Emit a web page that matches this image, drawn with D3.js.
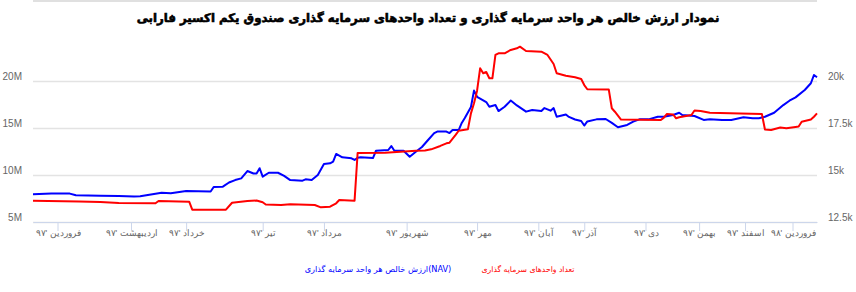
<!DOCTYPE html>
<html>
<head>
<meta charset="utf-8">
<script src="https://cdn.jsdelivr.net/npm/d3@7"></script>
<style>
    body { margin: 0; background: #fff; }
    svg { display: block; font-family: "DejaVu Sans", sans-serif; }
</style>
</head>
<body>
<svg width="856" height="292"></svg>
<script>
// trading day index of each month start on the x axis
var monthTicks = [8, 32, 50, 75, 95, 122, 145, 165, 180, 200, 217.5, 232.5, 248];
var monthLabels = ["فروردین '۹۷", "اردیبهشت '۹۷", "خرداد '۹۷", "تیر '۹۷", "مرداد '۹۷", "شهریور '۹۷",
    "مهر '۹۷", "آبان '۹۷", "آذر '۹۷", "دی '۹۷", "بهمن '۹۷", "اسفند '۹۷", "فروردین '۹۸"];

var leftTicks = [5, 10, 15, 20];          // M
var rightTicks = [12.5, 15, 17.5, 20];    // k

// تعداد واحدها (میلیون) - [روز, مقدار]
var unitsData = [[0, 7.27], [15, 7.18], [22, 7.13], [28, 7.02], [40, 6.99], [41, 7.23], [51, 7.16], [52, 6.31],
    [63, 6.31], [65, 7.05], [70, 7.23], [73, 7.29], [75, 7.10], [76, 6.86], [81, 6.81], [84, 6.88], [92, 6.81],
    [94, 6.56], [97, 6.63], [99, 6.99], [100, 7.34], [105, 7.27], [106, 12.34], [115, 12.37], [120, 12.48],
    [125, 12.59], [128, 12.61], [130, 12.73], [133, 13.09], [135, 13.37], [136, 13.44], [138, 14.26], [139, 14.71],
    [142, 14.86], [143, 16.56], [144, 17.63], [145, 18.97], [146, 21.35], [147, 20.82], [148, 20.96], [149, 20.29],
    [150, 20.29], [151, 22.77], [152, 22.95], [154, 22.95], [156, 23.30], [158, 23.48], [159, 23.65], [161, 23.19],
    [166, 23.12], [168, 22.77], [170, 21.81], [171, 20.82], [174, 20.56], [177, 20.39], [179, 20.21], [180, 19.57],
    [181, 19.12], [188, 19.10], [189, 17.10], [190, 16.73], [192, 15.90], [205, 15.85], [206, 16.10], [207, 16.49],
    [209, 16.44], [210, 16.03], [211, 16.14], [215, 16.38], [216, 16.86], [218, 16.81], [221, 16.63], [231, 16.54],
    [238, 16.49], [239, 14.84], [241, 14.79], [244, 15.05], [246, 14.97], [249, 15.11], [250, 15.16], [251, 15.67],
    [254, 15.90], [255, 16.20], [256, 16.56]];

// NAV (هزار ریال) - [روز, مقدار]
var navData = [[0, 13.97], [6, 14.02], [12, 14.01], [14, 13.92], [22, 13.90], [28, 13.88], [33, 13.85], [35, 13.87],
    [42, 14.06], [45, 14.03], [50, 14.15], [58, 14.12], [59, 14.36], [62, 14.38], [64, 14.60], [66, 14.73],
    [68, 14.82], [70, 15.21], [72, 15.08], [73, 15.08], [74, 15.36], [75, 14.91], [77, 15.12], [80, 15.12],
    [82, 14.95], [84, 14.73], [88, 14.70], [89, 14.77], [91, 14.73], [93, 15.00], [95, 15.59], [97, 15.62],
    [98, 15.71], [99, 16.12], [101, 15.94], [104, 15.89], [105, 15.80], [106, 15.92], [107, 15.94], [111, 15.90],
    [112, 16.29], [116, 16.33], [117, 16.54], [118, 16.29], [121, 16.29], [123, 15.97], [125, 16.24], [127, 16.49],
    [129, 16.86], [131, 17.23], [132, 17.31], [135, 17.31], [136, 17.23], [137, 17.39], [139, 17.39], [140, 17.77],
    [141, 18.03], [143, 18.62], [144, 19.49], [145, 19.16], [148, 18.88], [149, 18.63], [151, 18.72], [152, 18.40],
    [154, 18.63], [156, 18.96], [158, 18.70], [161, 18.37], [163, 18.46], [166, 18.40], [167, 18.56], [169, 18.42],
    [170, 18.56], [171, 18.10], [174, 18.22], [175, 18.09], [177, 17.95], [179, 17.87], [180, 17.63], [181, 17.85],
    [184, 17.96], [187, 17.98], [189, 17.77], [191, 17.54], [194, 17.66], [196, 17.84], [198, 17.96], [201, 17.96],
    [204, 18.10], [206, 18.10], [209, 18.19], [211, 18.31], [212, 18.19], [216, 18.14], [219, 17.93], [221, 17.96],
    [225, 17.93], [228, 17.93], [232, 18.07], [235, 18.02], [237, 18.02], [239, 18.10], [242, 18.31], [245, 18.72],
    [247, 18.95], [249, 19.13], [252, 19.52], [254, 19.88], [255, 20.32], [256, 20.20]];

var titleText = "نمودار ارزش خالص هر واحد سرمایه گذاری و تعداد واحدهای سرمایه گذاری صندوق یکم اکسیر فارابی";
var navName = "ارزش خالص هر واحد سرمایه گذاری(NAV)";
var unitsName = "تعداد واحدهای سرمایه گذاری";

var svg = d3.select("svg");

var x = d3.scaleLinear().domain([0, 256]).range([33, 817]);
var yLeft = d3.scaleLinear().domain([5, 20]).range([222, 81]);
var yRight = d3.scaleLinear().domain([12.5, 20]).range([222, 81]);

// shrink/grow a text so it is w pixels wide
function fitWidth(sel, size, w) {
    sel.attr("font-size", size);
    var len = sel.node().getComputedTextLength();
    sel.attr("font-size", size * w / len);
}

// خط بالای کادر
svg.append("line")
    .attr("x1", 33).attr("x2", 817).attr("y1", 1).attr("y2", 1)
    .attr("stroke", "#e0e0e0").attr("stroke-width", 2);

// title
var title = svg.append("text")
    .attr("x", 428).attr("y", 22)
    .attr("text-anchor", "middle")
    .attr("font-weight", "bold")
    .attr("fill", "#000")
    .attr("stroke", "#000")
    .attr("stroke-width", 0.6)
    .text(titleText);
fitWidth(title, 15, 583);

// left axis + grid
var gLeft = svg.append("g")
    .attr("transform", "translate(33,0)")
    .call(d3.axisLeft(yLeft).tickValues(leftTicks).tickSize(-784).tickPadding(11)
        .tickFormat(function (d) { return d + "M"; }));
gLeft.select(".domain").remove();
gLeft.selectAll("line").attr("stroke", "#e3e3e3").attr("stroke-width", 1.5);
gLeft.selectAll("text").attr("y", -5).attr("fill", "#666").attr("font-size", 10)
    .attr("font-family", "Liberation Sans, Arial, sans-serif");

// right axis
var gRight = svg.append("g")
    .attr("transform", "translate(817,0)")
    .call(d3.axisRight(yRight).tickValues(rightTicks).tickSize(0).tickPadding(11)
        .tickFormat(function (d) { return d + "k"; }));
gRight.select(".domain").remove();
gRight.selectAll("text").attr("y", -5).attr("fill", "#666").attr("font-size", 10)
    .attr("font-family", "Liberation Sans, Arial, sans-serif");

// x axis
var gX = svg.append("g")
    .attr("transform", "translate(0,222)")
    .call(d3.axisBottom(x).tickValues(monthTicks).tickSize(9).tickSizeOuter(0)
        .tickFormat(function (d, i) { return monthLabels[i]; }));
gX.select(".domain").attr("stroke", "#ccd6eb");
gX.selectAll("line").attr("stroke", "#ccd6eb");
gX.selectAll("text").attr("y", 8).attr("fill", "#666").attr("font-size", 8.5);

// lines
var unitsLine = d3.line()
    .x(function (d) { return x(d[0]); })
    .y(function (d) { return yLeft(d[1]); });
var navLine = d3.line()
    .x(function (d) { return x(d[0]); })
    .y(function (d) { return yRight(d[1]); });

svg.append("path")
    .datum(navData)
    .attr("d", navLine)
    .attr("fill", "none")
    .attr("stroke", "#0000ff")
    .attr("stroke-width", 2)
    .attr("stroke-linejoin", "round");

svg.append("path")
    .datum(unitsData)
    .attr("d", unitsLine)
    .attr("fill", "none")
    .attr("stroke", "#ff0000")
    .attr("stroke-width", 2)
    .attr("stroke-linejoin", "round");

// legend
var navItem = svg.append("text")
    .attr("x", 378).attr("y", 272)
    .attr("text-anchor", "middle")
    .attr("fill", "#0000ff")
    .text(navName);
fitWidth(navItem, 9, 147);
var unitsItem = svg.append("text")
    .attr("x", 528).attr("y", 272)
    .attr("text-anchor", "middle")
    .attr("fill", "#ff0000")
    .text(unitsName);
fitWidth(unitsItem, 9, 93);
</script>
</body>
</html>
